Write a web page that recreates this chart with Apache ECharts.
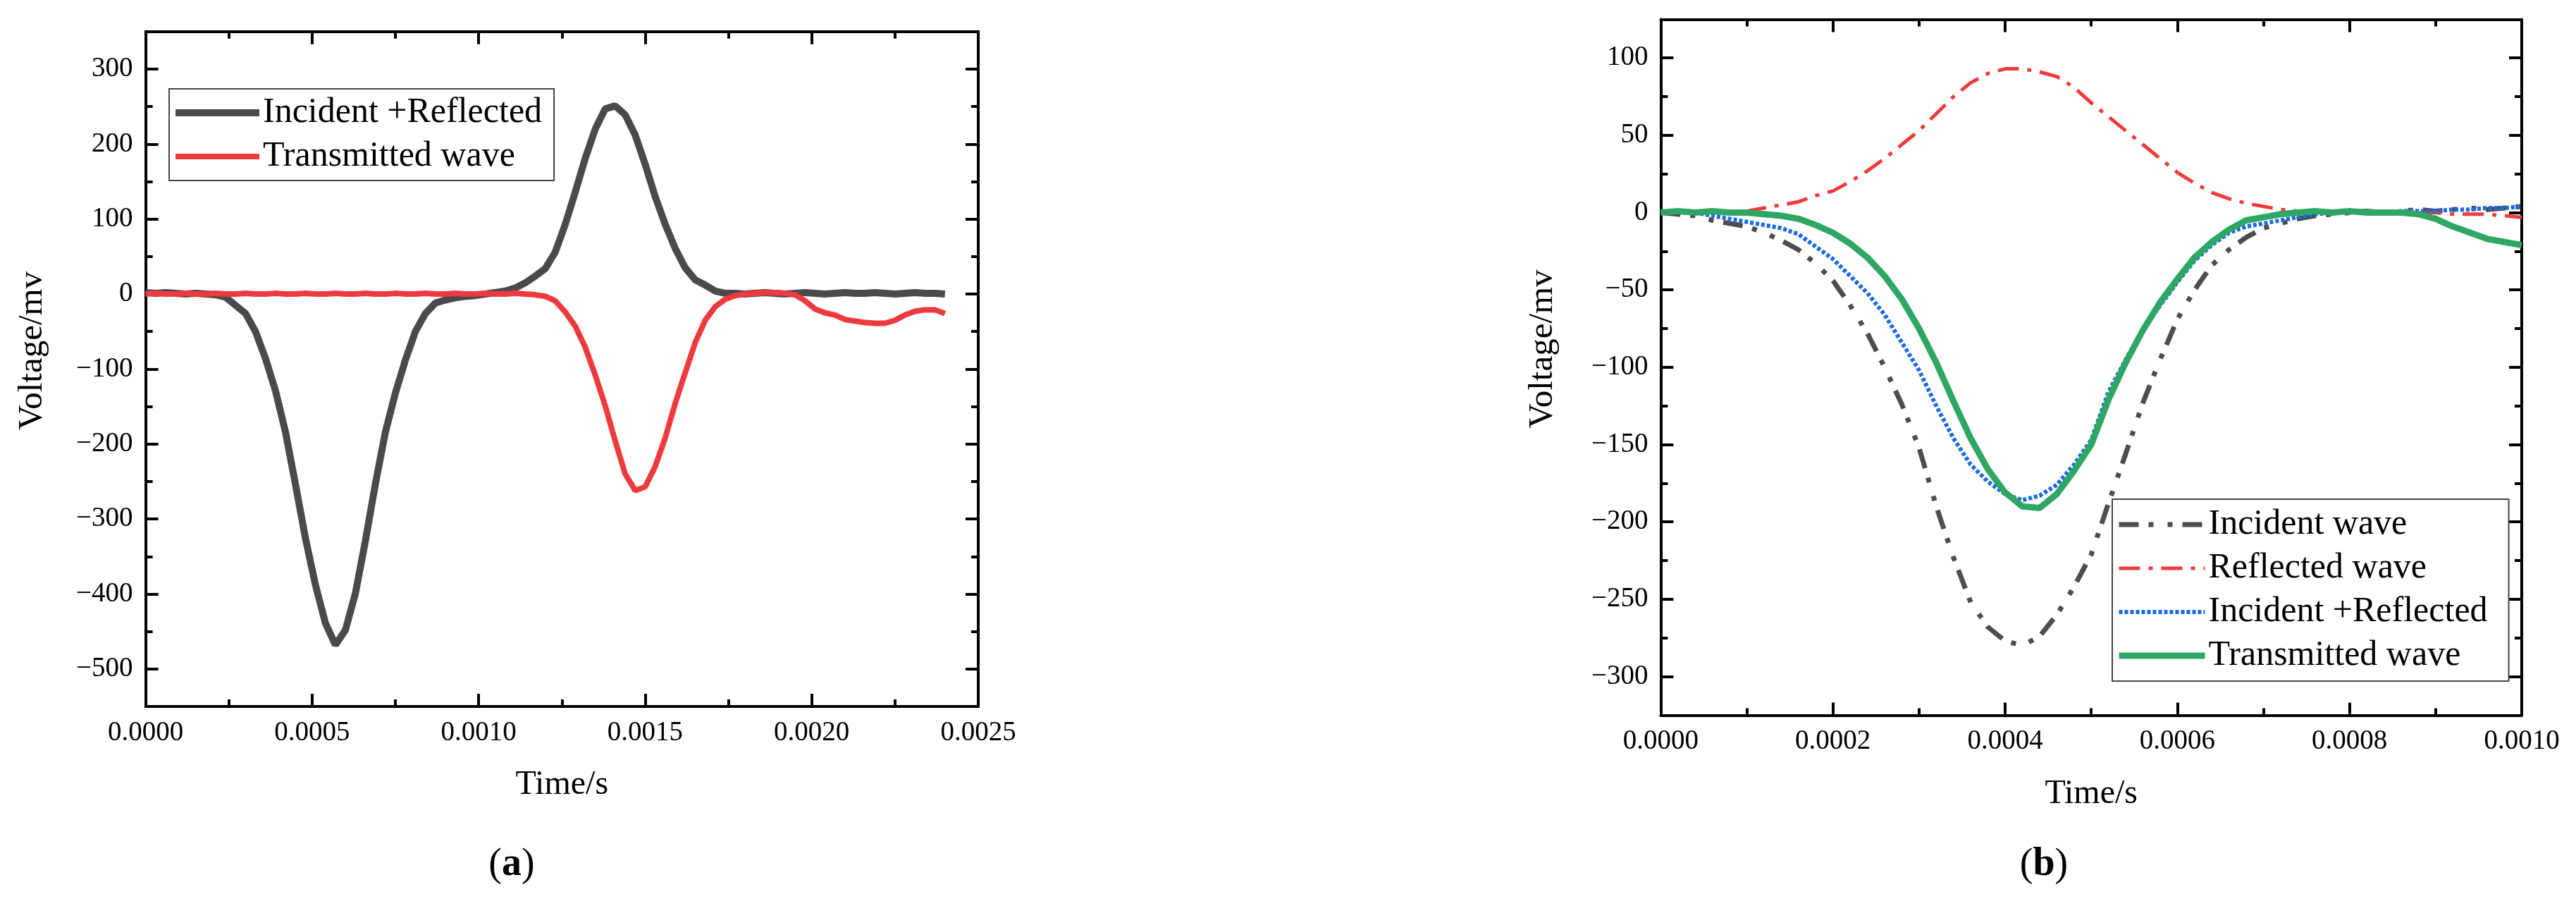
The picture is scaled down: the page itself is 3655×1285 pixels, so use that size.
<!DOCTYPE html>
<html>
<head>
<meta charset="utf-8">
<title>Voltage waveforms</title>
<script src="https://cdn.jsdelivr.net/npm/echarts@6/dist/echarts.min.js"></script>
<style>
  html, body { margin: 0; padding: 0; background: #fff; }
  #chart { width: 3655px; height: 1285px; }
</style>
</head>
<body>
<div id="chart"></div>
<script>
// ---- (a) ----
const timeA = [
  0, 0.00003, 0.00006, 0.00009, 0.00012, 0.00015, 0.00018, 0.00021, 0.00024, 0.00027,
  0.0003, 0.00033, 0.00036, 0.00039, 0.00042, 0.00045, 0.00048, 0.00051, 0.00054, 0.00057,
  0.0006, 0.00063, 0.00066, 0.00069, 0.00072, 0.00075, 0.00078, 0.00081, 0.00084, 0.00087,
  0.0009, 0.00093, 0.00096, 0.00099, 0.00102, 0.00105, 0.00108, 0.00111, 0.00114, 0.00117,
  0.0012, 0.00123, 0.00126, 0.00129, 0.00132, 0.00135, 0.00138, 0.00141, 0.00144, 0.00147,
  0.0015, 0.00153, 0.00156, 0.00159, 0.00162, 0.00165, 0.00168, 0.00171, 0.00174, 0.00177,
  0.0018, 0.00183, 0.00186, 0.00189, 0.00192, 0.00195, 0.00198, 0.00201, 0.00204, 0.00207,
  0.0021, 0.00213, 0.00216, 0.00219, 0.00222, 0.00225, 0.00228, 0.00231, 0.00234, 0.00237,
  0.0024
]
const incRefA = [
  2, 1, 2, 1, 0, 1, 0, -1, -4, -15,
  -26, -50, -86, -129, -184, -254, -326, -388, -439, -468,
  -448, -399, -329, -253, -184, -132, -88, -50, -26, -12,
  -8, -5, -3, -2, 0, 2, 4, 8, 15, 24,
  34, 56, 93, 136, 181, 220, 247, 251, 239, 212,
  173, 130, 93, 61, 35, 19, 12, 4, 1, 1,
  0, 1, 2, 1, 0, 1, 2, 1, 0, 1,
  2, 1, 1, 2, 1, 0, 1, 2, 1, 1,
  0
]
const transA = [
  0, 1, 0, 0, 1, 0, 0, 1, 0, 0,
  1, 0, 0, 1, 0, 0, 1, 0, 0, 1,
  0, 0, 1, 0, 0, 1, 0, 0, 1, 0,
  0, 1, 0, 0, 1, 0, 0, 1, 0, -1,
  -3, -9, -24, -43, -71, -108, -149, -196, -240, -262,
  -257, -230, -192, -146, -105, -65, -35, -17, -7, -2,
  0, 1, 2, 2, 1, -1, -9, -20, -25, -28,
  -34, -36, -38, -39, -39, -35, -28, -23, -21, -21,
  -26
]
const yMajorA = [-500, -400, -300, -200, -100, 0, 100, 200, 300]
const yMinorA = [-450, -350, -250, -150, -50, 50, 150, 250]

// ---- (b) ----
const timeB = [
  0, 0.00002, 0.00004, 0.00006, 0.00008, 0.0001, 0.00012, 0.00014, 0.00016, 0.00018,
  0.0002, 0.00022, 0.00024, 0.00026, 0.00028, 0.0003, 0.00032, 0.00034, 0.00036, 0.00038,
  0.0004, 0.00042, 0.00044, 0.00046, 0.00048, 0.0005, 0.00052, 0.00054, 0.00056, 0.00058,
  0.0006, 0.00062, 0.00064, 0.00066, 0.00068, 0.0007, 0.00072, 0.00074, 0.00076, 0.00078,
  0.0008, 0.00082, 0.00084, 0.00086, 0.00088, 0.0009, 0.00092, 0.00094, 0.00096, 0.00098,
  0.001
]
const incidentB = [
  0, -1, -2, -5, -7, -9, -13, -18, -24, -33,
  -44, -60, -78, -100, -124, -152, -190, -223, -252, -268,
  -277, -280, -274, -260, -242, -221, -188, -156, -123, -95,
  -69, -50, -34, -24, -16, -10, -7, -4, -2, -1,
  0, 1, 0, 1, 2, 1, 2, 3, 2, 3,
  4
]
const reflectedB = [
  0, 0, 0, 0, 0, 1, 3, 5, 7, 11,
  14, 20, 27, 35, 44, 53, 64, 75, 84, 90,
  93, 93, 91, 88, 81, 71, 62, 53, 44, 35,
  26, 19, 13, 9, 6, 4, 2, 1, 0, 0,
  0, 0, 0, 0, 0, 0, -1, -1, -1, -2,
  -3
]
const incRefB = [
  0, 0, 0, -2, -4, -6, -8, -10, -14, -22,
  -30, -41, -52, -66, -84, -102, -125, -146, -163, -174,
  -182, -186, -183, -176, -163, -147, -116, -95, -76, -60,
  -45, -31, -21, -13, -9, -7, -5, -3, -1, 0,
  0, 1, 0, 1, 1, 1, 2, 2, 3, 3,
  4
]
const transB = [
  0, 1, 0, 1, 0, 0, -1, -2, -4, -8,
  -13, -20, -29, -41, -56, -75, -97, -122, -146, -166,
  -181, -190, -191, -182, -167, -150, -121, -97, -76, -58,
  -43, -29, -19, -11, -5, -3, -1, 0, 1, 0,
  1, 0, 0, 0, -1, -4, -9, -13, -17, -19,
  -21
]
const yMajorB = [-300, -250, -200, -150, -100, -50, 0, 50, 100]
const yMinorB = [-275, -225, -175, -125, -75, -25, 25, 75]

const FONT = 'Liberation Serif'
const BLACK = { color: '#000', width: 4 }
const fmtX = v => v.toFixed(4)
const fmtY = v => (v < 0 ? '\u2212' + Math.abs(v) : String(v))
const pairs = (t, v) => t.map((x, i) => [x, v[i]])

// line looks shared by the series and their legend entries
const styleIncRefA = { width: 10 }
const styleTransA = { width: 8 }
const styleIncident = { width: 7, type: [28, 14, 7, 20, 7, 14] }
const styleReflected = { width: 5, type: [30, 12, 6, 12] }
const styleIncRefB = { width: 6, type: [5, 3] }
const styleTransB = { width: 9 }

function xAxes(gridIndex, max, interval, nameGap) {
  const base = {
    type: 'value', gridIndex, min: 0, max, interval,
    splitLine: { show: false },
    axisLine: { show: true, onZero: false, lineStyle: BLACK },
    axisTick: { show: true, inside: true, length: 18, lineStyle: BLACK },
    minorTick: { show: true, splitNumber: 2, length: 10, lineStyle: BLACK }
  }
  return [
    Object.assign({}, base, {
      position: 'bottom',
      name: 'Time/s', nameLocation: 'middle', nameGap,
      nameTextStyle: { fontFamily: FONT, fontSize: 48, color: '#000' },
      axisLabel: { formatter: fmtX, margin: 18, fontFamily: FONT, fontSize: 39, color: '#000' }
    }),
    Object.assign({}, base, { position: 'top', axisLabel: { show: false } })
  ]
}

function yAxes(gridIndex, min, max, major, minor, nameGap) {
  const common = { type: 'value', gridIndex, min, max, splitLine: { show: false } }
  const majorAxis = pos => Object.assign({}, common, {
    position: pos,
    axisLine: { show: true, onZero: false, lineStyle: BLACK },
    axisTick: { show: true, inside: true, length: 18, customValues: major, lineStyle: BLACK },
    axisLabel: {
      show: pos === 'left', customValues: major, formatter: fmtY, margin: 18,
      fontFamily: FONT, fontSize: 39, color: '#000'
    }
  })
  const minorAxis = pos => Object.assign({}, common, {
    position: pos,
    axisLine: { show: false, onZero: false },
    axisTick: { show: true, inside: true, length: 10, customValues: minor, lineStyle: BLACK },
    axisLabel: { show: false }
  })
  const left = majorAxis('left')
  left.name = 'Voltage/mv'
  left.nameLocation = 'middle'
  left.nameGap = nameGap
  left.nameTextStyle = { fontFamily: FONT, fontSize: 49, color: '#000', padding: [0, 0, 0, 52] }
  return [left, minorAxis('left'), majorAxis('right'), minorAxis('right')]
}

const legendBase = {
  orient: 'vertical',
  itemHeight: 10, itemGap: 10,
  borderColor: '#444', borderWidth: 2, backgroundColor: '#fff',
  selectedMode: false,
  itemStyle: { opacity: 0 },
  textStyle: { fontFamily: FONT, fontSize: 50, lineHeight: 52, color: '#000' }
}

const chart = echarts.init(document.getElementById('chart'))
chart.setOption({
  animation: false,
  backgroundColor: '#fff',
  grid: [
    { left: 206.6, top: 44.8, width: 1181.4, height: 957.2 },
    { left: 2356.4, top: 27.4, width: 1221.6, height: 987 }
  ],
  xAxis: [].concat(
    xAxes(0, 0.0025, 0.0005, 87),
    xAxes(1, 0.001, 0.0002, 88)
  ),
  yAxis: [].concat(
    yAxes(0, -550, 350, yMajorA, yMinorA, 136),
    yAxes(1, -325, 125, yMajorB, yMinorB, 143)
  ),
  legend: [
    Object.assign({}, legendBase, {
      data: [
        { name: 'Incident +Reflected', lineStyle: styleIncRefA },
        { name: 'Transmitted wave', lineStyle: styleTransA }
      ],
      left: 240, top: 126, itemWidth: 119,
      padding: [8, 17, 8, 4]
    }),
    Object.assign({}, legendBase, {
      data: [
        { name: 'Incident wave', lineStyle: styleIncident },
        { name: 'Reflected wave', lineStyle: styleReflected },
        { name: 'Incident +Reflected (b)', lineStyle: styleIncRefB },
        { name: 'Transmitted wave (b)', lineStyle: styleTransB }
      ],
      formatter: n => n.replace(' (b)', ''),
      left: 2997, top: 708, itemWidth: 122,
      padding: [10, 30, 10, 5]
    })
  ],
  graphic: [
    {
      type: 'text', x: 726, y: 1227,
      style: {
        text: '({b|a})', align: 'center', verticalAlign: 'middle',
        fontFamily: FONT, fontSize: 56, fill: '#000',
        rich: { b: { fontFamily: FONT, fontSize: 56, fontWeight: 'bold' } }
      }
    },
    {
      type: 'text', x: 2900, y: 1227,
      style: {
        text: '({b|b})', align: 'center', verticalAlign: 'middle',
        fontFamily: FONT, fontSize: 56, fill: '#000',
        rich: { b: { fontFamily: FONT, fontSize: 56, fontWeight: 'bold' } }
      }
    }
  ],
  series: [
    {
      name: 'Incident +Reflected', type: 'line', xAxisIndex: 0, yAxisIndex: 0,
      symbol: 'none', color: '#4a4a4a', lineStyle: styleIncRefA,
      data: pairs(timeA, incRefA)
    },
    {
      name: 'Transmitted wave', type: 'line', xAxisIndex: 0, yAxisIndex: 0,
      symbol: 'none', color: '#ee3a3e', lineStyle: styleTransA,
      data: pairs(timeA, transA)
    },
    {
      name: 'Incident wave', type: 'line', xAxisIndex: 2, yAxisIndex: 4,
      symbol: 'none', color: '#4d4d4d', lineStyle: styleIncident,
      data: pairs(timeB, incidentB)
    },
    {
      name: 'Reflected wave', type: 'line', xAxisIndex: 2, yAxisIndex: 4,
      symbol: 'none', color: '#f03a3c', lineStyle: styleReflected,
      data: pairs(timeB, reflectedB)
    },
    {
      name: 'Incident +Reflected (b)', type: 'line', xAxisIndex: 2, yAxisIndex: 4,
      symbol: 'none', color: '#1c6ce2', lineStyle: styleIncRefB,
      data: pairs(timeB, incRefB)
    },
    {
      name: 'Transmitted wave (b)', type: 'line', xAxisIndex: 2, yAxisIndex: 4,
      symbol: 'none', color: '#2ea764', lineStyle: styleTransB,
      data: pairs(timeB, transB)
    }
  ]
})
</script>
</body>
</html>
